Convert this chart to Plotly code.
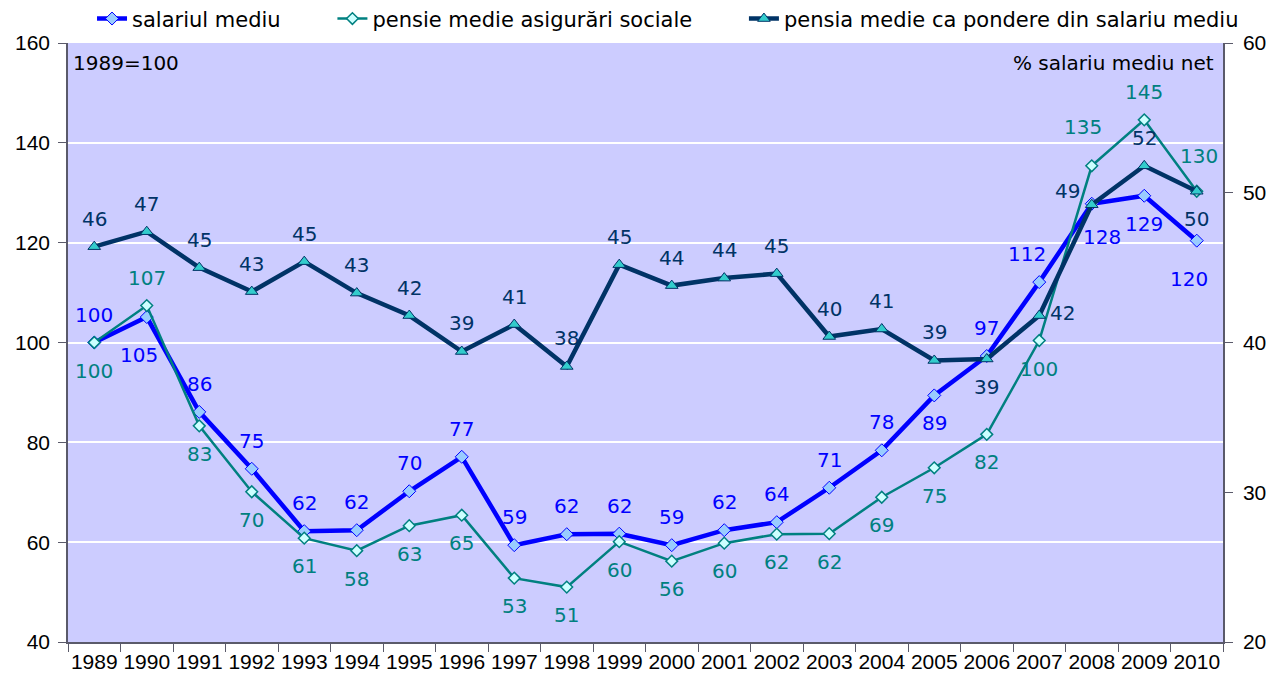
import plotly.graph_objects as go

years = [str(y) for y in range(1989, 2011)]

salariul_mediu = [100, 105.1, 86.1, 74.7, 62.2, 62.4, 70.2, 77.1, 59.4, 61.6, 61.7,
                  59.4, 62.4, 64.0, 70.9, 78.4, 89.4, 97.3, 112.1, 127.8, 129.4, 120.4]
pensie_medie = [100, 107.4, 83.3, 70.1, 60.8, 58.3, 63.3, 65.4, 52.8, 51.0, 60.1,
                56.2, 59.8, 61.6, 61.7, 69.0, 74.9, 81.6, 100.4, 135.4, 144.6, 130.3]
pondere = [46.4, 47.4, 45.0, 43.4, 45.4, 43.3, 41.8, 39.4, 41.2, 38.4, 45.2,
           43.8, 44.3, 44.6, 40.4, 40.9, 38.8, 38.9, 41.8, 49.2, 51.8, 50.1]

# label placement codes
sal_pos = ["t", "b2", "t", "t", "t", "t", "t", "t", "t", "t", "t",
           "t", "t", "t", "t", "t", "b", "t", "tl", "br", "b", "b2"]
pen_pos = ["b", "t", "b", "b", "b", "b", "b", "b", "b", "b", "b",
           "b", "b", "b", "b", "b", "b", "b", "b", "tl2", "t", "t2"]
pon_pos = ["t", "t", "t", "t", "t", "t", "t", "t", "t", "t", "t",
           "t", "t", "t", "t", "t", "t", "b", "r", "l", "t", "b"]

shift = {
    "t": (0, 28), "t2": (2, 35), "b": (0, -28), "b2": (-8, -38),
    "tl": (-12, 28), "tl2": (-9, 39), "br": (10, -33),
    "r": (23, 3), "l": (-24, 14),
}

C_SAL = "#0000FF"
C_PEN = "#008080"
C_PON = "#003366"
LABEL_FONT = "Tahoma, Verdana, DejaVu Sans"
NARROW = "Liberation Sans Narrow, Arial Narrow, Liberation Sans, Arial"

fig = go.Figure()
fig.add_trace(go.Scatter(
    x=years, y=salariul_mediu, name="salariul mediu" + "\u00a0" * 7, mode="lines+markers",
    line=dict(color=C_SAL, width=4.5),
    marker=dict(symbol="diamond", size=10, color="#99CCFF", line=dict(color=C_SAL, width=1)),
    yaxis="y"))
fig.add_trace(go.Scatter(
    x=years, y=pensie_medie, name="pensie medie asigurări sociale" + "\u00a0" * 7,
    mode="lines+markers",
    line=dict(color=C_PEN, width=2.5),
    marker=dict(symbol="diamond", size=9, color="#CCFFFF", line=dict(color=C_PEN, width=1.5)),
    yaxis="y"))
fig.add_trace(go.Scatter(
    x=years, y=pondere, name="pensia medie ca pondere din salariu mediu", mode="lines+markers",
    line=dict(color=C_PON, width=4.5),
    marker=dict(symbol="triangle-up", size=11, color="#33CCCC", line=dict(color=C_PON, width=1)),
    yaxis="y2"))

annotations = []
for vals, pos, color, yref in [(salariul_mediu, sal_pos, C_SAL, "y"),
                               (pensie_medie, pen_pos, C_PEN, "y"),
                               (pondere, pon_pos, C_PON, "y2")]:
    for i, (v, p) in enumerate(zip(vals, pos)):
        dx, dy = shift[p]
        annotations.append(dict(
            x=i, y=v, xref="x", yref=yref, text=str(round(v)), showarrow=False,
            xshift=dx, yshift=dy, font=dict(family=LABEL_FONT, size=20, color=color)))

annotations.append(dict(x=0, y=1, xref="paper", yref="paper", xanchor="left", yanchor="top",
                        text="1989=100", showarrow=False, xshift=3, yshift=-6,
                        font=dict(family=LABEL_FONT, size=20, color="black")))
annotations.append(dict(x=1, y=1, xref="paper", yref="paper", xanchor="right", yanchor="top",
                        text="% salariu mediu net", showarrow=False, xshift=-7, yshift=-6,
                        font=dict(family=LABEL_FONT, size=20, color="black")))

AX = "#5a5a6a"
fig.update_layout(
    width=1269, height=681,
    margin=dict(l=60, r=54, t=35, b=47),
    paper_bgcolor="white", plot_bgcolor="#CCCCFF",
    showlegend=True,
    legend=dict(orientation="h", x=0.0208, xanchor="left", yref="container",
                y=0.984, yanchor="middle",
                font=dict(family=LABEL_FONT, size=21, color="black"),
                bgcolor="rgba(0,0,0,0)", itemwidth=30),
    xaxis=dict(type="category", range=[-0.5, 21.5], tickson="boundaries", ticks="outside",
               ticklen=8, tickcolor=AX, showline=True, linecolor=AX, linewidth=1.5,
               showgrid=False, tickangle=0, automargin=False,
               tickfont=dict(family=NARROW, size=21, color="black")),
    yaxis=dict(range=[40, 160], dtick=20, ticks="outside", ticklen=8, tickcolor=AX,
               showline=True, linecolor=AX, linewidth=1.5, automargin=False,
               ticklabelstandoff=4,
               showgrid=True, gridcolor="white", gridwidth=1.5, zeroline=False,
               tickfont=dict(family=NARROW, size=21, color="black")),
    yaxis2=dict(range=[20, 60], dtick=10, overlaying="y", side="right", ticks="outside",
                ticklen=8, tickcolor=AX, showline=True, linecolor=AX, linewidth=1.5,
                showgrid=False, zeroline=False, automargin=False,
                ticklabelstandoff=6,
                tickfont=dict(family=NARROW, size=21, color="black")),
    annotations=annotations,
)

fig.write_html("out.html")
